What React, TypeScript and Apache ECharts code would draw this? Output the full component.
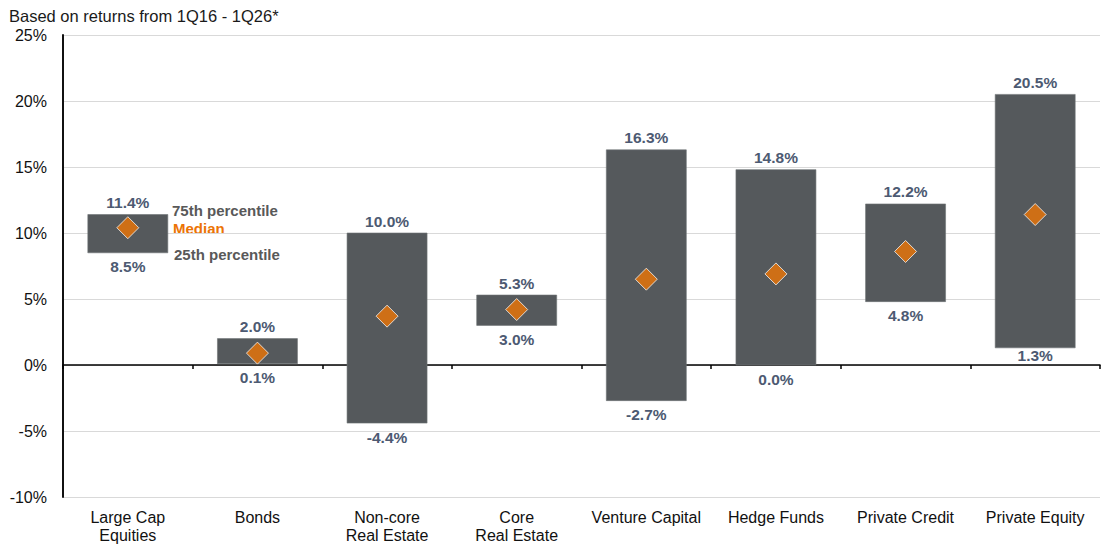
import React, { useEffect, useRef } from "react";
import * as echarts from "echarts";

const categories = [
  "Large Cap\nEquities",
  "Bonds",
  "Non-core\nReal Estate",
  "Core\nReal Estate",
  "Venture Capital",
  "Hedge Funds",
  "Private Credit",
  "Private Equity",
];
const p75 = [11.4, 2.0, 10.0, 5.3, 16.3, 14.8, 12.2, 20.5];
const p25 = [8.5, 0.1, -4.4, 3.0, -2.7, 0.0, 4.8, 1.3];
const median = [10.4, 0.9, 3.7, 4.2, 6.5, 6.9, 8.6, 11.4];
const yTicks = [-10, -5, 0, 5, 10, 15, 20, 25];

const FONT = "'Liberation Sans', Arial, sans-serif";
const BAR_COLOR = "#55595c";
const LABEL_COLOR = "#4d5a72";
const ORANGE = "#ec7405";
const BAR_WIDTH = 80;

export default function App() {
  const ref = useRef<HTMLDivElement>(null);

  useEffect(() => {
    if (!ref.current) return;
    const chart = echarts.init(ref.current, undefined, { renderer: "svg" });

    const rangeData = categories.map((_, i) => [i, p25[i], p75[i]]);

    chart.setOption({
      animation: false,
      textStyle: { fontFamily: FONT },
      title: {
        text: "Based on returns from 1Q16 - 1Q26*",
        left: 4,
        top: 2,
        textStyle: { fontFamily: FONT, fontSize: 16.5, fontWeight: "normal", color: "#1a1a1a" },
      },
      grid: { left: 63, right: 7, top: 35, bottom: 54 },
      xAxis: [
        {
          type: "category",
          data: categories,
          position: "bottom",
          axisLine: { show: false, onZero: false },
          axisTick: { show: false },
          axisLabel: {
            fontFamily: FONT,
            fontSize: 16,
            color: "#111",
            margin: 11,
            lineHeight: 18,
            interval: 0,
          },
        },
        {
          type: "category",
          data: categories,
          position: "bottom",
          axisLine: { show: true, onZero: true, lineStyle: { color: "#000", width: 1.5 } },
          axisTick: { show: true, length: 4, lineStyle: { color: "#000", width: 1.5 } },
          axisLabel: { show: false },
        },
      ],
      yAxis: {
        type: "value",
        min: yTicks[0],
        max: yTicks[yTicks.length - 1],
        interval: 5,
        axisLine: { show: true, lineStyle: { color: "#111", width: 2 } },
        axisTick: { show: false },
        splitLine: { lineStyle: { color: "#d9d9d9", width: 1 } },
        axisLabel: {
          fontFamily: FONT,
          fontSize: 16,
          color: "#111",
          margin: 16,
          formatter: (v: number) => `${v}%`,
        },
      },
      series: [
        {
          type: "custom",
          xAxisIndex: 0,
          data: rangeData,
          z: 2,
          renderItem: (params: any, api: any) => {
            const x = api.value(0);
            const lo = api.value(1);
            const hi = api.value(2);
            const top = api.coord([x, hi]);
            const bot = api.coord([x, lo]);
            const zeroY = api.coord([x, 0])[1];
            // keep the lower label clear of the zero line when the bar ends just above it
            const lowOffset = lo > 0.5 && zeroY - bot[1] < 25 ? 8 : 14;
            return {
              type: "group",
              children: [
                {
                  type: "rect",
                  shape: {
                    x: top[0] - BAR_WIDTH / 2,
                    y: top[1],
                    width: BAR_WIDTH,
                    height: bot[1] - top[1],
                  },
                  style: { fill: BAR_COLOR, stroke: "#6f7376", lineWidth: 0.6 },
                },
                {
                  type: "text",
                  x: top[0],
                  y: top[1] - 12,
                  style: {
                    text: `${hi.toFixed(1)}%`,
                    fill: LABEL_COLOR,
                    font: `bold 15.5px ${FONT}`,
                    align: "center",
                    verticalAlign: "middle",
                  },
                },
                {
                  type: "text",
                  x: bot[0],
                  y: bot[1] + lowOffset,
                  style: {
                    text: `${lo.toFixed(1)}%`,
                    fill: LABEL_COLOR,
                    font: `bold 15.5px ${FONT}`,
                    align: "center",
                    verticalAlign: "middle",
                  },
                },
              ],
            };
          },
        },
        {
          type: "scatter",
          xAxisIndex: 0,
          data: median,
          symbol: "diamond",
          symbolSize: [22, 22],
          z: 3,
          itemStyle: { color: ORANGE, borderColor: "#f4f4f4", borderWidth: 1 },
        },
      ],
      graphic: [
        {
          type: "text",
          x: 172,
          y: 210,
          style: {
            text: "75th percentile",
            fill: "#595959",
            font: `bold 15px ${FONT}`,
            verticalAlign: "middle",
          },
        },
        {
          type: "text",
          x: 173,
          y: 228,
          style: {
            text: "Median",
            fill: ORANGE,
            font: `bold 15px ${FONT}`,
            verticalAlign: "middle",
          },
        },
        {
          type: "text",
          x: 174,
          y: 254,
          style: {
            text: "25th percentile",
            fill: "#595959",
            font: `bold 15px ${FONT}`,
            verticalAlign: "middle",
          },
        },
      ],
    });

    return () => chart.dispose();
  }, []);

  return (
    <div
      ref={ref}
      style={{ position: "fixed", left: 0, top: 0, width: 1107, height: 551, background: "#fff" }}
    />
  );
}
